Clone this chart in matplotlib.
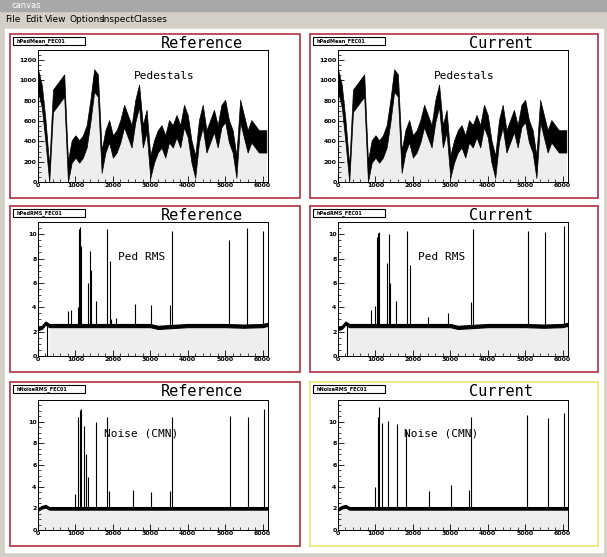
import matplotlib
matplotlib.use("Agg")
import matplotlib.pyplot as plt
import numpy as np
from matplotlib.patches import Rectangle

W, H = 607, 557
ped_x = list(range(0, 6200, 100))
ped_ref = [1000,850,500,50,800,850,900,950,100,300,350,300,350,450,700,1000,950,200,400,500,
           350,400,500,650,550,450,700,850,450,600,150,300,400,450,350,500,450,550,450,650,
           550,300,150,500,650,400,500,600,450,650,700,500,400,150,700,550,400,500,450,400,400,400]
ped_cur = ped_ref
ped_halfwidth = 110

rms_x = [0, 100, 200, 300, 1000, 2000, 3000, 3200, 4000, 5000, 5500, 6000, 6144]
rms_ref = [2.25, 2.35, 2.7, 2.5, 2.5, 2.5, 2.5, 2.35, 2.5, 2.5, 2.45, 2.5, 2.6]
rms_halfwidth = 0.13
rms_spk_x_ref = [800,870,1070,1090,1110,1130,1150,1330,1380,1410,1550,1830,1930,1960,2080,2580,3030,3520,3580,5100,5580,6000]
rms_spk_h_ref = [3.7,3.8,4.0,10.4,10.6,9.8,9.0,6.0,8.6,7.1,4.5,10.4,7.8,3.0,3.1,4.3,4.2,4.2,10.3,9.5,10.5,10.3]
rms_spk_x_cur = [870,1000,1050,1080,1100,1310,1370,1400,1560,1840,1920,2400,2950,3540,3600,5080,5540,6050]
rms_spk_h_cur = [3.8,4.1,9.8,10.1,10.2,7.6,10.0,6.0,4.5,10.3,7.5,3.2,3.5,4.4,10.4,10.3,10.2,10.7]

noise_x = [0, 100, 200, 300, 1000, 2000, 3000, 4000, 5000, 6000, 6144]
noise_ref = [1.9, 2.1, 2.2, 2.0, 2.0, 2.0, 2.0, 2.0, 2.0, 2.0, 2.0]
noise_halfwidth = 0.12
noi_spk_x_ref = [1000,1080,1120,1150,1220,1280,1330,1560,1830,1900,2550,3030,3520,3580,5120,5600,6050]
noi_spk_h_ref = [3.3,10.4,11.1,11.2,9.6,7.0,4.9,10.0,10.4,3.6,3.7,3.5,3.6,10.4,10.5,10.4,11.2]
noi_spk_x_cur = [1000,1060,1100,1180,1330,1570,1820,2430,3030,3490,3560,5050,5600,6030]
noi_spk_h_cur = [4.0,10.4,11.4,9.9,10.1,9.8,9.2,3.6,4.2,3.7,10.4,10.6,10.3,10.8]

fig = plt.figure(figsize=(W/100, H/100), dpi=100)
fig.patch.set_facecolor("#d4d0c8")
bg = fig.add_axes([0, 0, 1, 1]); bg.set_xlim(0, W); bg.set_ylim(H, 0); bg.axis("off")
bg.add_patch(Rectangle((0, 0), W, 11, color="#a8a8a8"))
bg.text(12, 6, "canvas", fontsize=6, color="white", va="center")
for lab, x in zip(["File", "Edit", "View", "Options", "Inspect", "Classes"], [5, 25, 45, 69, 101, 133]):
    bg.text(x, 20, lab, fontsize=6.5, va="center")
bg.add_patch(Rectangle((5, 29), 598, 523, color="white"))

def frame(x1, y1, x2, y2, color, name, title, label, lx):
    bg.add_patch(Rectangle((x1, y1), x2-x1, y2-y1, fill=False, ec=color, lw=1.2))
    bg.add_patch(Rectangle((x1+3, y1+3), 72, 8, fc="white", ec="black", lw=0.8))
    bg.text(x1+7, y1+7, name, fontsize=3.5, fontweight="bold", va="center")
    bg.text((x1+x2)/2+47, y1+10, title, fontsize=11, family="DejaVu Sans Mono", ha="center", va="center")

def mkax(x1, y1, x2, y2):
    ax = fig.add_axes([x1/W, 1-y2/H, (x2-x1)/W, (y2-y1)/H])
    ax.set_xlim(0, 6144)
    ax.set_xticks(range(0, 7000, 1000))
    ax.set_xticks(range(0, 6200, 200), minor=True)
    ax.tick_params(direction="in", labelsize=4.5, length=4, width=0.6, pad=1)
    ax.tick_params(which="minor", direction="in", length=2, width=0.5)
    for lab in ax.get_xticklabels() + ax.get_yticklabels():
        lab.set_fontweight("bold")
    for s in ax.spines.values():
        s.set_linewidth(0.7)
    return ax

cols = [(10, 300, 38, 268), (310, 598, 338, 568)]
rows = [(34, 198, 50, 182), (206, 372, 222, 356), (382, 546, 400, 530)]
titles = ["Reference", "Current"]

for ci, (fx1, fx2, ax1, ax2) in enumerate(cols):
    # pedestals
    fy1, fy2, ay1, ay2 = rows[0]
    frame(fx1, fy1, fx2, fy2, "#b03040", "hPedMean_FEC01", titles[ci], "", 0)
    ax = mkax(ax1, ay1, ax2, ay2)
    p = np.array(ped_ref if ci == 0 else ped_cur, float)
    ax.fill_between(ped_x, 0, p, color="#eeeeee", lw=0)
    ax.fill_between(ped_x, np.clip(p-ped_halfwidth, 0, None), p+ped_halfwidth, color="black", lw=0.5)
    ax.set_ylim(0, 1300); ax.set_yticks(range(0, 1400, 200))
    ax.set_yticks(range(0, 1300, 50), minor=True)
    ax.text(0.55, 0.78, "Pedestals", transform=ax.transAxes, fontsize=8, family="DejaVu Sans Mono", ha="center")
    for l in ax.get_xticklabels() + ax.get_yticklabels(): l.set_fontweight("bold")

    # RMS
    fy1, fy2, ay1, ay2 = rows[1]
    frame(fx1, fy1, fx2, fy2, "#b03040", "hPedRMS_FEC01", titles[ci], "", 0)
    ax = mkax(ax1, ay1, ax2, ay2)
    r = np.array(rms_ref, float)
    ax.fill_between(rms_x, 0, r, where=np.array(rms_x) >= 250, color="#eeeeee", lw=0)
    ax.fill_between(rms_x, r-rms_halfwidth, r+rms_halfwidth, color="black", lw=0.8)
    ax.axvline(250, ymax=2.4/11, color="black", lw=0.8)
    sx, sh = (rms_spk_x_ref, rms_spk_h_ref) if ci == 0 else (rms_spk_x_cur, rms_spk_h_cur)
    ax.vlines(sx, 2.5, sh, color="black", lw=0.8)
    ax.set_ylim(0, 11); ax.set_yticks(range(0, 11, 2)); ax.set_yticks(np.arange(0, 11, 0.5), minor=True)
    ax.text(0.45, 0.72, "Ped RMS", transform=ax.transAxes, fontsize=8, family="DejaVu Sans Mono", ha="center")
    for l in ax.get_xticklabels() + ax.get_yticklabels(): l.set_fontweight("bold")

    # Noise
    fy1, fy2, ay1, ay2 = rows[2]
    frame(fx1, fy1, fx2, fy2, "#b03040" if ci == 0 else "#e8e870", "hNoiseRMS_FEC01", titles[ci], "", 0)
    ax = mkax(ax1, ay1, ax2, ay2)
    n = np.array(noise_ref, float)
    ax.fill_between(noise_x, 0, n, color="#eeeeee", lw=0)
    ax.fill_between(noise_x, n-noise_halfwidth, n+noise_halfwidth, color="black", lw=0.8)
    sx, sh = (noi_spk_x_ref, noi_spk_h_ref) if ci == 0 else (noi_spk_x_cur, noi_spk_h_cur)
    ax.vlines(sx, 2.0, sh, color="black", lw=0.8)
    ax.set_ylim(0, 12); ax.set_yticks(range(0, 12, 2)); ax.set_yticks(np.arange(0, 12, 0.5), minor=True)
    ax.text(0.45, 0.72, "Noise (CMN)", transform=ax.transAxes, fontsize=8, family="DejaVu Sans Mono", ha="center")
    for l in ax.get_xticklabels() + ax.get_yticklabels(): l.set_fontweight("bold")

fig.savefig("out.png", dpi=100)
